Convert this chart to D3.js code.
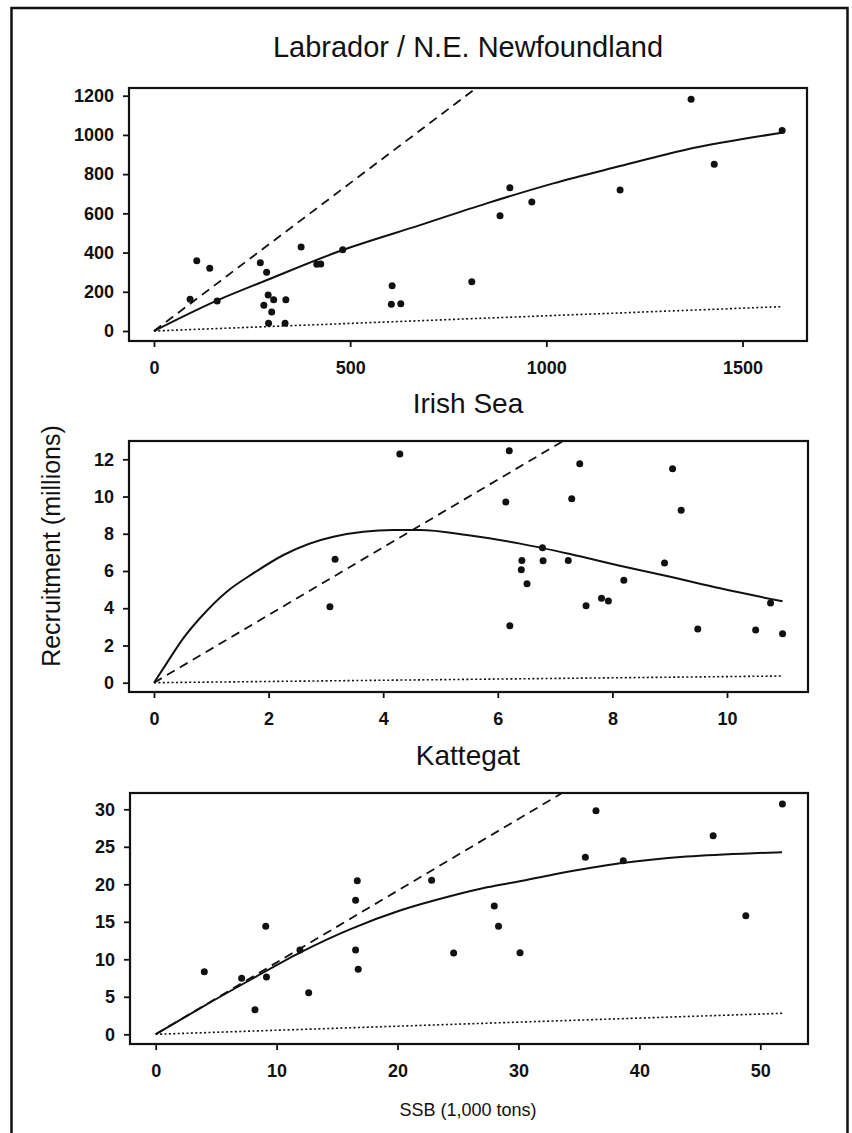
<!DOCTYPE html>
<html>
<head>
<meta charset="utf-8">
<script src="https://cdn.jsdelivr.net/npm/d3@7"></script>
<style>
  body { margin: 0; background: #fff; }
  svg { display: block; }
  text { font-family: "Liberation Sans", Arial, Helvetica, sans-serif; fill: #111; }
</style>
</head>
<body>
<svg id="chart" width="852" height="1133"></svg>
<script>
// ---------------- DATA ----------------
const panelTitles = ["Labrador / N.E. Newfoundland", "Irish Sea", "Kattegat"];
const xLabel = "SSB (1,000 tons)";
const yLabel = "Recruitment (millions)";

// Labrador / N.E. Newfoundland
const labSSB = [109, 142, 92, 161, 271, 287, 291, 305, 280, 300, 292, 336, 334, 375, 415, 425, 481, 607, 605, 629, 810, 882, 907, 963, 1188, 1369, 1428, 1601];
const labRec = [358, 320, 162, 153, 348, 299, 184, 160, 131, 97, 39, 160, 39, 428, 340, 342, 415, 231, 136, 139, 251, 588, 731, 658, 719, 1182, 850, 1023];
const labFitX = [0, 160, 288, 481, 678, 848, 1018, 1188, 1358, 1527, 1600];
const labFitY = [0, 155, 260, 413, 540, 651, 753, 841, 926, 988, 1011];
const labSlopeX = [0, 822];
const labSlopeY = [0, 1240];
const labReplX = [0, 1598];
const labReplY = [0, 124];
const labXTicks = [0, 500, 1000, 1500];
const labYTicks = [0, 200, 400, 600, 800, 1000, 1200];

// Irish Sea
const irSSB = [4.29, 6.20, 6.14, 3.16, 3.07, 6.21, 7.43, 7.29, 9.05, 9.20, 6.78, 6.42, 6.79, 7.23, 6.41, 6.51, 8.91, 8.20, 7.81, 7.93, 7.54, 10.76, 9.49, 10.50, 10.97];
const irRec = [12.28, 12.46, 9.70, 6.63, 4.08, 3.06, 11.76, 9.88, 11.49, 9.26, 7.25, 6.57, 6.55, 6.57, 6.07, 5.32, 6.43, 5.50, 4.53, 4.39, 4.14, 4.28, 2.88, 2.83, 2.63];
const irFitX = [0, 0.22, 0.51, 0.80, 1.27, 1.73, 2.26, 3.13, 4.18, 4.64, 5.46, 6.39, 7.26, 8.13, 9.01, 9.88, 10.97];
const irFitY = [0, 1.04, 2.38, 3.46, 4.89, 5.87, 6.86, 7.84, 8.20, 8.20, 7.93, 7.47, 6.91, 6.28, 5.69, 5.07, 4.37];
const irSlopeX = [0, 7.14];
const irSlopeY = [0, 12.98];
const irReplX = [0, 10.97];
const irReplY = [0, 0.36];
const irXTicks = [0, 2, 4, 6, 8, 10];
const irYTicks = [0, 2, 4, 6, 8, 10, 12];

// Kattegat
const kaSSB = [4.02, 7.11, 8.21, 9.10, 9.16, 11.93, 12.65, 16.67, 16.53, 16.53, 16.75, 22.82, 24.64, 28.0, 28.35, 30.13, 35.53, 36.41, 38.67, 46.1, 48.8, 51.83];
const kaRec = [8.35, 7.47, 3.28, 14.4, 7.64, 11.24, 5.55, 20.48, 17.87, 11.24, 8.67, 20.53, 10.84, 17.1, 14.4, 10.88, 23.6, 29.8, 23.15, 26.48, 15.8, 30.7];
const kaFitX = [0, 3.66, 7.8, 11.93, 16.06, 20.2, 24.33, 27.4, 30.1, 32.9, 38.4, 43.9, 49.4, 51.8];
const kaFitY = [0, 3.47, 7.24, 10.9, 14.0, 16.5, 18.4, 19.6, 20.4, 21.3, 22.8, 23.7, 24.15, 24.27];
const kaSlopeX = [0, 33.57];
const kaSlopeY = [0, 32.13];
const kaReplX = [0, 51.83];
const kaReplY = [0, 2.8];
const kaXTicks = [0, 10, 20, 30, 40, 50];
const kaYTicks = [0, 5, 10, 15, 20, 25, 30];

// ---------------- LAYOUT ----------------
const panels = [
  { title: panelTitles[0], titleY: 57, titleSize: 29,
    box: [129, 88, 807, 341],
    xs: { d: [0, 1500], r: [154, 742.5] }, ys: { d: [0, 1200], r: [331, 95.7] },
    ssb: labSSB, rec: labRec, fitX: labFitX, fitY: labFitY,
    slopeX: labSlopeX, slopeY: labSlopeY, replX: labReplX, replY: labReplY,
    xt: labXTicks, yt: labYTicks },
  { title: panelTitles[1], titleY: 413, titleSize: 28,
    box: [129, 441, 808, 692],
    xs: { d: [0, 10], r: [154, 727] }, ys: { d: [0, 12], r: [682.7, 459.3] },
    ssb: irSSB, rec: irRec, fitX: irFitX, fitY: irFitY,
    slopeX: irSlopeX, slopeY: irSlopeY, replX: irReplX, replY: irReplY,
    xt: irXTicks, yt: irYTicks },
  { title: panelTitles[2], titleY: 765, titleSize: 28,
    box: [130, 793, 808, 1044],
    xs: { d: [0, 50], r: [155.7, 760.3] }, ys: { d: [0, 30], r: [1034.3, 809.3] },
    ssb: kaSSB, rec: kaRec, fitX: kaFitX, fitY: kaFitY,
    slopeX: kaSlopeX, slopeY: kaSlopeY, replX: kaReplX, replY: kaReplY,
    xt: kaXTicks, yt: kaYTicks }
];

const svg = d3.select("#chart");
const ink = "#111";

// outer frame
svg.append("rect")
  .attr("x", 11.5).attr("y", 8).attr("width", 836).attr("height", 1150)
  .attr("fill", "none").attr("stroke", ink).attr("stroke-width", 2.5);

panels.forEach((p, i) => {
  const [bx0, by0, bx1, by1] = p.box;
  const x = d3.scaleLinear().domain(p.xs.d).range(p.xs.r);
  const y = d3.scaleLinear().domain(p.ys.d).range(p.ys.r);
  const g = svg.append("g");

  const clipId = "clip" + i;
  svg.append("clipPath").attr("id", clipId)
    .append("rect").attr("x", bx0).attr("y", by0).attr("width", bx1 - bx0).attr("height", by1 - by0);

  // title
  g.append("text")
    .attr("x", 468).attr("y", p.titleY)
    .attr("text-anchor", "middle")
    .style("font-size", p.titleSize + "px")
    .text(p.title);

  const plot = g.append("g").attr("clip-path", `url(#${clipId})`);
  const line = d3.line().x(d => x(d[0])).y(d => y(d[1]));

  // replacement (dotted)
  plot.append("path")
    .datum(p.replX.map((v, k) => [v, p.replY[k]]))
    .attr("d", line)
    .attr("fill", "none").attr("stroke", ink).attr("stroke-width", 1.6)
    .attr("stroke-dasharray", "2,2.4");

  // slope at origin (dashed)
  plot.append("path")
    .datum(p.slopeX.map((v, k) => [v, p.slopeY[k]]))
    .attr("d", line)
    .attr("fill", "none").attr("stroke", ink).attr("stroke-width", 1.8)
    .attr("stroke-dasharray", "9,6");

  // fitted curve (solid)
  plot.append("path")
    .datum(p.fitX.map((v, k) => [v, p.fitY[k]]))
    .attr("d", line.curve(d3.curveMonotoneX))
    .attr("fill", "none").attr("stroke", ink).attr("stroke-width", 2);

  // points
  plot.selectAll("circle")
    .data(p.ssb.map((v, k) => [v, p.rec[k]]))
    .join("circle")
    .attr("cx", d => x(d[0])).attr("cy", d => y(d[1]))
    .attr("r", 3.5).attr("fill", ink);

  // box
  g.append("rect")
    .attr("x", bx0).attr("y", by0).attr("width", bx1 - bx0).attr("height", by1 - by0)
    .attr("fill", "none").attr("stroke", ink).attr("stroke-width", 2.2);

  // axes
  const ax = g.append("g").attr("transform", `translate(0,${by1})`)
    .call(d3.axisBottom(x).tickValues(p.xt).tickSize(6).tickPadding(14).tickFormat(d3.format("d")));
  const ay = g.append("g").attr("transform", `translate(${bx0},0)`)
    .call(d3.axisLeft(y).tickValues(p.yt).tickSize(6).tickPadding(9).tickFormat(d3.format("d")));
  [ax, ay].forEach(a => {
    a.select(".domain").remove();
    a.selectAll(".tick line").attr("stroke", ink).attr("stroke-width", 1.8);
    a.selectAll(".tick text")
      .attr("fill", ink)
      .style("font-size", "18px").style("font-weight", "bold")
      .style("font-family", '"Liberation Sans", Arial, Helvetica, sans-serif');
  });
});

// axis titles
svg.append("text")
  .attr("x", 468).attr("y", 1116)
  .attr("text-anchor", "middle")
  .style("font-size", "18px")
  .text(xLabel);

svg.append("text")
  .attr("transform", "translate(60,546) rotate(-90)")
  .attr("text-anchor", "middle")
  .style("font-size", "25px")
  .text(yLabel);
</script>
</body>
</html>
